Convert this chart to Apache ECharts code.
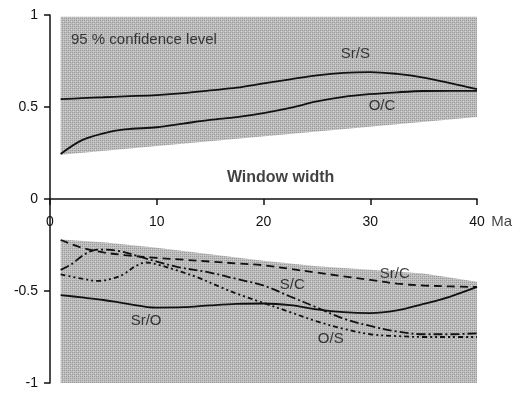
<!DOCTYPE html>
<html><head><meta charset="utf-8">
<script src="https://cdn.jsdelivr.net/npm/echarts@6/dist/echarts.min.js"></script>
<style>html,body{margin:0;padding:0;background:#fff}#c{width:527px;height:394px}</style>
</head><body><div id="c"></div>
<script>
// ---- data ----
const upperBandX = [1, 40];
const upperBandTop = [0.99, 0.99];
const upperBandBottom = [0.24, 0.446];
const lowerBandX = [1, 5, 10, 15, 20, 25, 30, 35, 40];
const lowerBandTop = [-0.22, -0.235, -0.265, -0.30, -0.335, -0.365, -0.385, -0.405, -0.45];
const lowerBandBottom = [-1, -1, -1, -1, -1, -1, -1, -1, -1];

const srsX = [1, 3, 5, 7, 10, 12.5, 15, 17.5, 20, 22.5, 25, 27.5, 30, 32.5, 35, 37.5, 40];
const srsY = [0.543, 0.548, 0.553, 0.558, 0.565, 0.575, 0.59, 0.605, 0.628, 0.65, 0.672, 0.686, 0.69, 0.68, 0.66, 0.63, 0.597];
const ocX = [1, 3, 5, 7, 10, 12.5, 15, 17.5, 20, 22.5, 25, 27.5, 30, 32.5, 35, 37.5, 40];
const ocY = [0.245, 0.32, 0.357, 0.378, 0.39, 0.41, 0.43, 0.445, 0.467, 0.495, 0.53, 0.555, 0.57, 0.58, 0.587, 0.588, 0.588];

const srcX = [1, 3, 5, 7, 10, 12.5, 15, 17.5, 20, 22.5, 25, 27.5, 30, 32.5, 35, 37.5, 40];
const srcY = [-0.223, -0.265, -0.29, -0.305, -0.32, -0.33, -0.34, -0.35, -0.36, -0.38, -0.40, -0.42, -0.44, -0.46, -0.47, -0.475, -0.478];
const sroX = [1, 3, 5, 7, 10, 12.5, 15, 17.5, 20, 22.5, 25, 27.5, 30, 32.5, 35, 37.5, 40];
const sroY = [-0.522, -0.535, -0.549, -0.567, -0.59, -0.588, -0.578, -0.57, -0.568, -0.577, -0.60, -0.615, -0.62, -0.605, -0.57, -0.53, -0.478];
const scX = [1, 2, 3, 4, 5, 6.5, 8.5, 10, 12, 15, 17.5, 20, 22.5, 25, 27.5, 30, 32.5, 35, 37.5, 40];
const scY = [-0.385, -0.355, -0.31, -0.28, -0.275, -0.283, -0.315, -0.34, -0.37, -0.40, -0.435, -0.47, -0.53, -0.59, -0.65, -0.69, -0.72, -0.735, -0.735, -0.73];
const osX = [1, 3, 4.5, 6, 7, 8, 9, 10, 12, 14, 16, 18, 20, 22.5, 25, 27.5, 30, 32.5, 35, 37.5, 40];
const osY = [-0.41, -0.433, -0.445, -0.43, -0.405, -0.365, -0.345, -0.355, -0.39, -0.43, -0.48, -0.525, -0.565, -0.615, -0.665, -0.705, -0.735, -0.745, -0.75, -0.75, -0.75];

const labelText = ['95 % confidence level', 'Sr/S', 'O/C', 'Window width', 'Sr/C', 'S/C', 'O/S', 'Sr/O', 'Ma'];
const labelX = [8.8, 28.6, 31.1, 21.6, 32.3, 22.7, 26.3, 9.0, 42.3];
const labelY = [0.864, 0.788, 0.505, 0.114, -0.408, -0.467, -0.761, -0.663, -0.125];
const labelBold = [false, false, false, true, false, false, false, false, false];

// ---- helpers ----
function pairs(xs, ys) { return xs.map((x, i) => [x, ys[i]]); }

const W = 527, H = 394;
const G = { left: 50, right: 50, top: 15, bottom: 11 };
const plotH = H - G.top - G.bottom;

// stipple texture
const pat = document.createElement('canvas');
pat.width = 4; pat.height = 4;
(function () {
  const g = pat.getContext('2d');
  g.fillStyle = '#bebebe'; g.fillRect(0, 0, 4, 4);
  g.fillStyle = '#9a9a9a';
  g.fillRect(0, 0, 1, 1); g.fillRect(2, 2, 1, 1); g.fillRect(2, 0, 1, 1); g.fillRect(0, 2, 1, 1);
  g.fillStyle = '#cfcfcf';
  g.fillRect(1, 3, 1, 1); g.fillRect(3, 1, 1, 1);
})();
const bandFill = { image: pat, repeat: 'repeat' };

function bandSeries(xs, top, bottom) {
  return {
    type: 'custom',
    silent: true,
    z: 1,
    data: [0],
    renderItem: function (params, api) {
      const pts = [];
      for (let i = 0; i < xs.length; i++) pts.push(api.coord([xs[i], top[i]]));
      for (let i = xs.length - 1; i >= 0; i--) pts.push(api.coord([xs[i], bottom[i]]));
      return { type: 'polygon', shape: { points: pts }, style: { fill: bandFill, stroke: null } };
    }
  };
}

function lineSeries(name, xs, ys, type) {
  return {
    name: name, type: 'line', data: pairs(xs, ys), smooth: 0.35, showSymbol: false, symbol: 'none',
    z: 3, silent: true,
    lineStyle: { color: '#111', width: 1.8, type: type }
  };
}

const chart = echarts.init(document.getElementById('c'), null, { renderer: 'canvas' });
const font = 'Liberation Sans, Arial, sans-serif';
chart.setOption({
  animation: false,
  backgroundColor: '#fff',
  textStyle: { fontFamily: font },
  grid: { left: G.left, right: G.right, top: G.top, bottom: G.bottom, containLabel: false, outerBoundsMode: 'none' },
  xAxis: {
    type: 'value', min: 0, max: 40, interval: 10, position: 'bottom',
    offset: -plotH / 2,
    axisLine: { onZero: false, lineStyle: { color: '#111', width: 1.5 } },
    axisTick: { show: true, length: 6, lineStyle: { color: '#111', width: 1.5 } },
    axisLabel: { color: '#111', fontSize: 14, margin: 16, fontFamily: font },
    splitLine: { show: false }
  },
  yAxis: {
    type: 'value', min: -1, max: 1, interval: 0.5,
    axisLine: { show: true, lineStyle: { color: '#111', width: 1.5 } },
    axisTick: { show: true, length: 6, lineStyle: { color: '#111', width: 1.5 } },
    axisLabel: { color: '#111', fontSize: 14, margin: 12, fontFamily: font },
    splitLine: { show: false }
  },
  series: [
    bandSeries(upperBandX, upperBandTop, upperBandBottom),
    bandSeries(lowerBandX, lowerBandTop, lowerBandBottom),
    lineSeries('Sr/S', srsX, srsY, 'solid'),
    lineSeries('O/C', ocX, ocY, 'solid'),
    lineSeries('Sr/C', srcX, srcY, [8, 5]),
    lineSeries('Sr/O', sroX, sroY, 'solid'),
    lineSeries('S/C', scX, scY, [9, 3, 2, 3]),
    lineSeries('O/S', osX, osY, [5, 3, 2, 3, 2, 3]),
    {
      type: 'scatter', symbolSize: 1, clip: false, z: 5, silent: true,
      itemStyle: { color: 'rgba(0,0,0,0)' },
      data: labelText.map((t, i) => ({
        value: [labelX[i], labelY[i]],
        label: {
          show: true, position: 'inside', formatter: t, color: '#111',
          fontSize: labelBold[i] ? 16 : 15, fontWeight: labelBold[i] ? 'bold' : 'normal',
          fontFamily: font
        }
      }))
    }
  ]
});
</script></body></html>
